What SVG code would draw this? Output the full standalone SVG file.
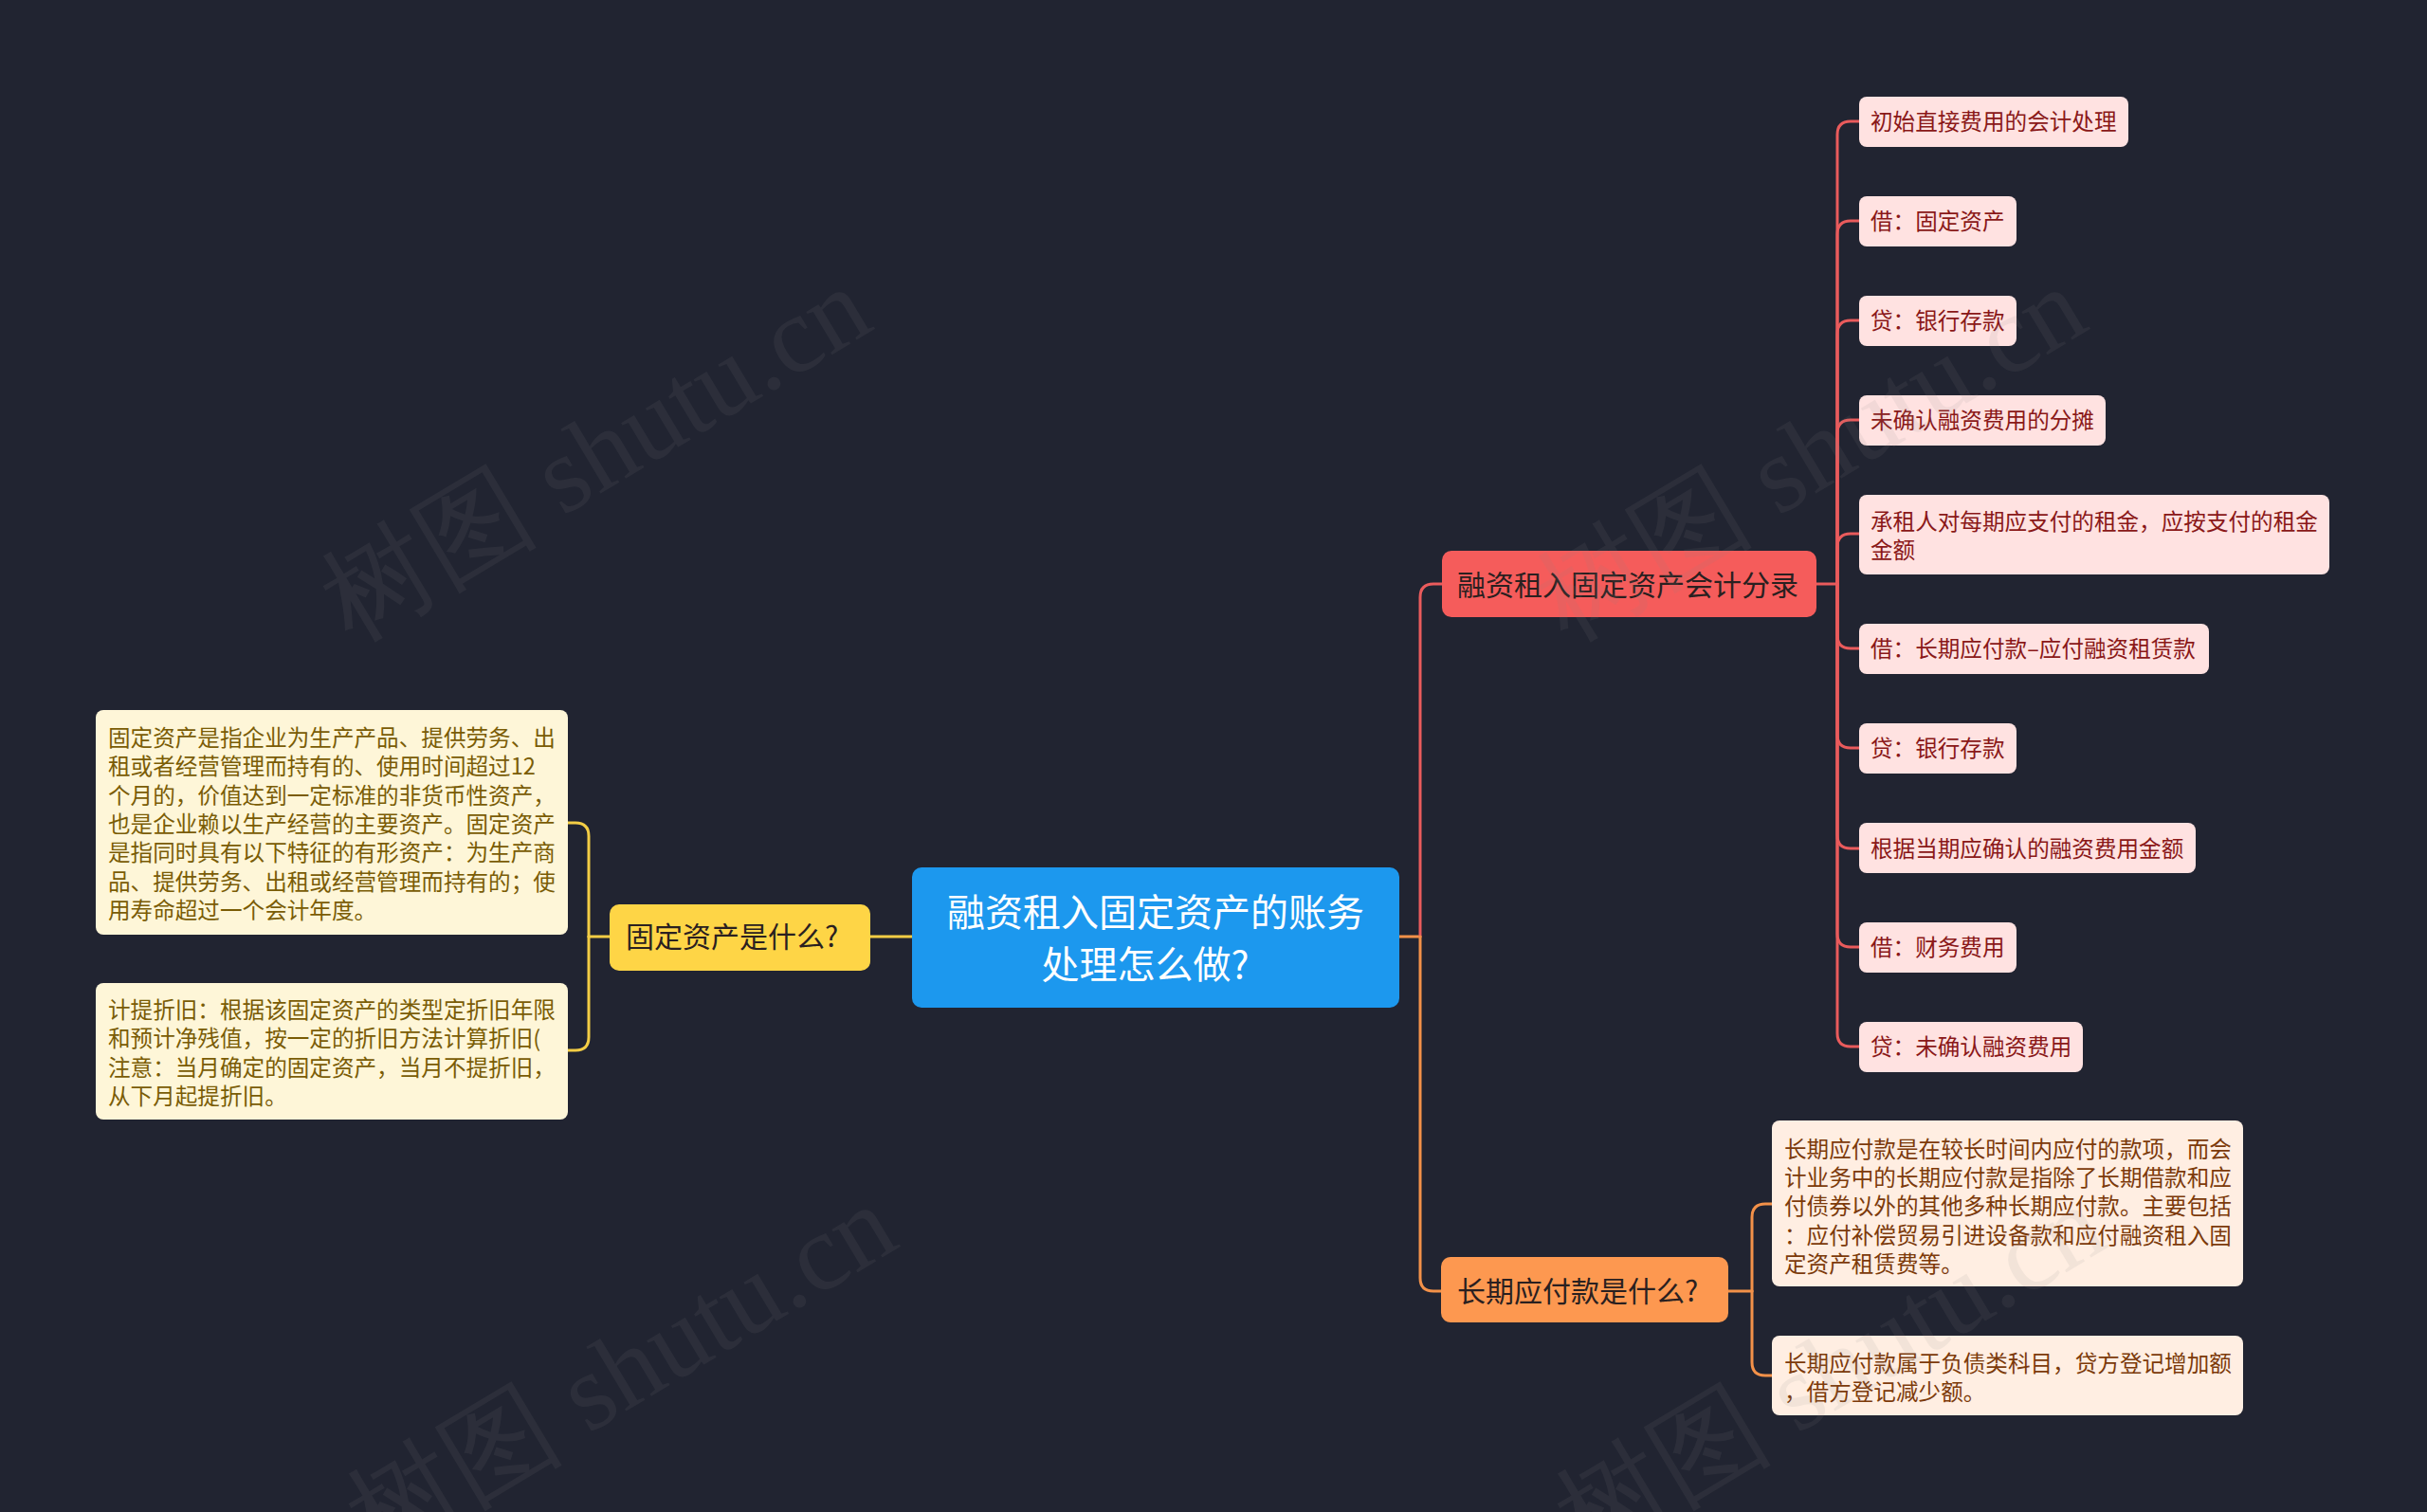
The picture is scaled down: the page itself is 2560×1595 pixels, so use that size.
<svg xmlns="http://www.w3.org/2000/svg" width="2560" height="1595" viewBox="0 0 2560 1595">
<style>
text{font-family:"Noto Sans CJK SC","Noto Sans",sans-serif}
.ln{fill:none;stroke-width:3;stroke-linecap:round}
.r{stroke:#EA5B5C}.y{stroke:#F3CD45}.o{stroke:#F39149}
.lr{fill:#FFE2E1}.ly{fill:#FEF6D8}.lo{fill:#FFEEE2}
.tr{font-size:23.6px;fill:#8A1818}.ty{font-size:23.6px;fill:#7A5C05}.to{font-size:23.6px;fill:#7C3A0A}
.t2{font-size:30px;fill:#2A2020}
.wm{font-family:"Liberation Serif",serif;font-size:115px;fill:#8a8a8a;opacity:0.1}
</style>
<rect width="2560" height="1595" fill="#212431"/>
<g id="connectors">
<path class="ln o" d="M1476,988 H1498"/>
<path class="ln r" d="M1498,988 V630 Q1498,616 1512,616 H1521"/>
<path class="ln o" d="M1498,988 V1348 Q1498,1362 1512,1362 H1520"/>
<path class="ln y" d="M918,988 H962"/>
<path class="ln y" d="M643,988 H621"/>
<path class="ln y" d="M621,988 V882 Q621,868 607,868 H599"/>
<path class="ln y" d="M621,988 V1094 Q621,1108 607,1108 H599"/>
<path class="ln r" d="M1916,616 H1938"/>
<path class="ln r" d="M1938,616 V142 Q1938,128 1952,128 H1961"/>
<path class="ln r" d="M1938,616 V247 Q1938,233 1952,233 H1961"/>
<path class="ln r" d="M1938,616 V352 Q1938,338 1952,338 H1961"/>
<path class="ln r" d="M1938,616 V457 Q1938,443 1952,443 H1961"/>
<path class="ln r" d="M1938,616 V577 Q1938,563 1952,563 H1961"/>
<path class="ln r" d="M1938,616 V670 Q1938,684 1952,684 H1961"/>
<path class="ln r" d="M1938,616 V775 Q1938,789 1952,789 H1961"/>
<path class="ln r" d="M1938,616 V881 Q1938,895 1952,895 H1961"/>
<path class="ln r" d="M1938,616 V985 Q1938,999 1952,999 H1961"/>
<path class="ln r" d="M1938,616 V1090 Q1938,1104 1952,1104 H1961"/>
<path class="ln o" d="M1823,1362 H1848"/>
<path class="ln o" d="M1848,1362 V1284 Q1848,1270 1862,1270 H1869"/>
<path class="ln o" d="M1848,1362 V1437 Q1848,1451 1862,1451 H1869"/>
</g>
<g id="center">
<rect x="962" y="915" width="514" height="148" rx="10" fill="#1C98EE"/>
<text x="1219" y="977" text-anchor="middle" font-size="40" fill="#FFFFFF">融资租入固定资产的账务</text>
<text x="1208" y="1032" text-anchor="middle" font-size="40" fill="#FFFFFF">处理怎么做?</text>
</g>
<g id="n-red">
<rect x="1521" y="581" width="395" height="70" rx="10" fill="#F55C5B"/>
<text x="1537" y="628" class="t2">融资租入固定资产会计分录</text>
</g>
<g id="n-yellow">
<rect x="643" y="954" width="275" height="70" rx="10" fill="#FED546"/>
<text x="660" y="999" class="t2">固定资产是什么?</text>
</g>
<g id="n-orange">
<rect x="1520" y="1326" width="303" height="69" rx="10" fill="#FD9850"/>
<text x="1537" y="1373" class="t2">长期应付款是什么?</text>
</g>
<g id="y1">
<rect class="ly" x="101" y="749" width="498" height="237" rx="8"/>
<text class="ty" x="114" y="787">固定资产是指企业为生产产品、提供劳务、出</text>
<text class="ty" x="114" y="817">租或者经营管理而持有的、使用时间超过12</text>
<text class="ty" x="114" y="848">个月的，价值达到一定标准的非货币性资产，</text>
<text class="ty" x="114" y="878">也是企业赖以生产经营的主要资产。固定资产</text>
<text class="ty" x="114" y="908">是指同时具有以下特征的有形资产：为生产商</text>
<text class="ty" x="114" y="939">品、提供劳务、出租或经营管理而持有的；使</text>
<text class="ty" x="114" y="969">用寿命超过一个会计年度。</text>
</g>
<g id="y2">
<rect class="ly" x="101" y="1037" width="498" height="144" rx="8"/>
<text class="ty" x="114" y="1074">计提折旧：根据该固定资产的类型定折旧年限</text>
<text class="ty" x="114" y="1104">和预计净残值，按一定的折旧方法计算折旧(</text>
<text class="ty" x="114" y="1135">注意：当月确定的固定资产，当月不提折旧，</text>
<text class="ty" x="114" y="1165">从下月起提折旧。</text>
</g>
<g id="r1"><rect class="lr" x="1961" y="102" width="284" height="53" rx="8"/><text class="tr" x="1973" y="137">初始直接费用的会计处理</text></g>
<g id="r2"><rect class="lr" x="1961" y="207" width="166" height="53" rx="8"/><text class="tr" x="1973" y="242">借：固定资产</text></g>
<g id="r3"><rect class="lr" x="1961" y="312" width="166" height="53" rx="8"/><text class="tr" x="1973" y="347">贷：银行存款</text></g>
<g id="r4"><rect class="lr" x="1961" y="417" width="260" height="53" rx="8"/><text class="tr" x="1973" y="452">未确认融资费用的分摊</text></g>
<g id="r5"><rect class="lr" x="1961" y="522" width="496" height="84" rx="8"/><text class="tr" x="1973" y="559">承租人对每期应支付的租金，应按支付的租金</text><text class="tr" x="1973" y="589">金额</text></g>
<g id="r6"><rect class="lr" x="1961" y="658" width="369" height="53" rx="8"/><text class="tr" x="1973" y="693">借：长期应付款–应付融资租赁款</text></g>
<g id="r7"><rect class="lr" x="1961" y="763" width="166" height="53" rx="8"/><text class="tr" x="1973" y="798">贷：银行存款</text></g>
<g id="r8"><rect class="lr" x="1961" y="868" width="355" height="53" rx="8"/><text class="tr" x="1973" y="904">根据当期应确认的融资费用金额</text></g>
<g id="r9"><rect class="lr" x="1961" y="973" width="166" height="53" rx="8"/><text class="tr" x="1973" y="1008">借：财务费用</text></g>
<g id="r10"><rect class="lr" x="1961" y="1078" width="236" height="53" rx="8"/><text class="tr" x="1973" y="1113">贷：未确认融资费用</text></g>
<g id="o1">
<rect class="lo" x="1869" y="1182" width="497" height="175" rx="8"/>
<text class="to" x="1882" y="1221">长期应付款是在较长时间内应付的款项，而会</text>
<text class="to" x="1882" y="1251">计业务中的长期应付款是指除了长期借款和应</text>
<text class="to" x="1882" y="1281">付债券以外的其他多种长期应付款。主要包括</text>
<text class="to" x="1882" y="1312">：应付补偿贸易引进设备款和应付融资租入固</text>
<text class="to" x="1882" y="1342">定资产租赁费等。</text>
</g>
<g id="o2">
<rect class="lo" x="1869" y="1409" width="497" height="84" rx="8"/>
<text class="to" x="1882" y="1447">长期应付款属于负债类科目，贷方登记增加额</text>
<text class="to" x="1882" y="1477">，借方登记减少额。</text>
</g>
<g id="watermark">
<text class="wm" transform="translate(648,512) rotate(-31)" text-anchor="middle">树图 shutu.cn</text>
<text class="wm" transform="translate(1930,512) rotate(-31)" text-anchor="middle">树图 shutu.cn</text>
<text class="wm" transform="translate(675,1480) rotate(-31)" text-anchor="middle">树图 shutu.cn</text>
<text class="wm" transform="translate(1950,1480) rotate(-31)" text-anchor="middle">树图 shutu.cn</text>
</g>
</svg>
